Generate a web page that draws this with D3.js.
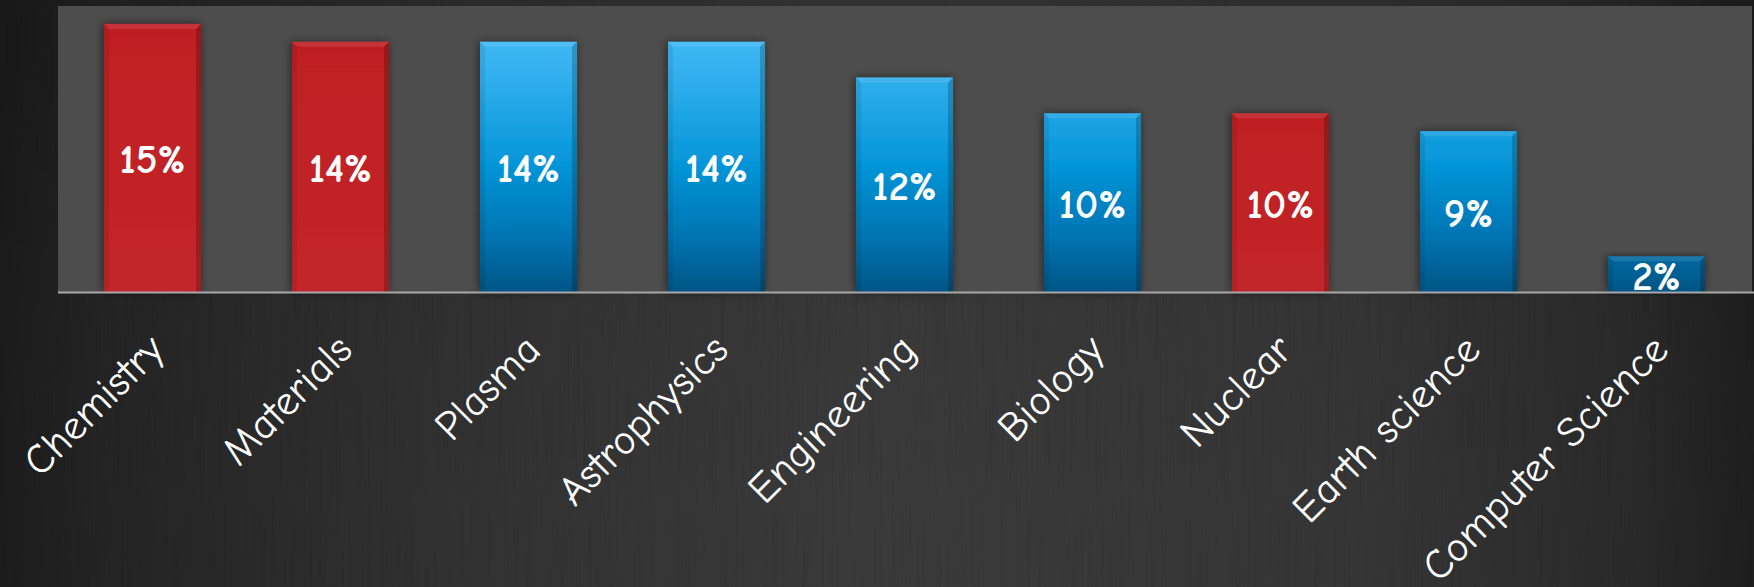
<!DOCTYPE html>
<html>
<head>
<meta charset="utf-8">
<script src="https://cdn.jsdelivr.net/npm/d3@7"></script>
<style>
  html, body { margin: 0; padding: 0; background: #2a2a2a; overflow: hidden; }
  svg { display: block; }
</style>
</head>
<body>
<svg id="chart" width="1754" height="587"></svg>
<script>
// Share of projects by research field
const categories = ["Chemistry", "Materials", "Plasma", "Astrophysics", "Engineering",
                    "Biology", "Nuclear", "Earth science", "Computer Science"];
const values = [15, 14, 14, 14, 12, 10, 10, 9, 2];
const groups = ["red", "red", "blue", "blue", "blue", "blue", "red", "blue", "blue"];
const yDomain = [0, 16];

const W = 1754, H = 587;
const plot = { left: 58.5, right: 1750.5, top: 6, bottom: 292 };

const svg = d3.select("#chart");
const defs = svg.append("defs");

// Charcoal backdrop: horizontal light falloff plus faint vertical grain
const bg = defs.append("linearGradient").attr("id", "bgGrad").attr("x1", 0).attr("x2", 1).attr("y1", 0).attr("y2", 0);
[[0, "#1c1c1c"], [0.06, "#242424"], [0.25, "#313131"], [0.5, "#3a3a3a"], [0.78, "#353535"], [0.93, "#2a2a2a"], [1, "#1e1e1e"]]
  .forEach(([o, c]) => bg.append("stop").attr("offset", o).attr("stop-color", c));
const bgV = defs.append("linearGradient").attr("id", "bgShade").attr("x1", 0).attr("x2", 0).attr("y1", 0).attr("y2", 1);
[[0, "#000", 0.15], [0.55, "#000", 0.02], [1, "#000", 0]]
  .forEach(([o, c, a]) => bgV.append("stop").attr("offset", o).attr("stop-color", c).attr("stop-opacity", a));

const grain = defs.append("filter").attr("id", "grain").attr("x", 0).attr("y", 0).attr("width", 1).attr("height", 1);
grain.append("feTurbulence").attr("type", "fractalNoise").attr("baseFrequency", "0.5 0.008")
  .attr("numOctaves", 2).attr("seed", 7).attr("result", "noise");
grain.append("feColorMatrix").attr("in", "noise").attr("type", "matrix")
  .attr("values", "0 0 0 0 0  0 0 0 0 0  0 0 0 0 0  0 0 0 -1.6 0.75");

// Bar fills
const red = defs.append("linearGradient").attr("id", "redFill").attr("x1", 0).attr("x2", 0).attr("y1", 0).attr("y2", 1);
[[0, "#bf1f23"], [1, "#c3262a"]].forEach(([o, c]) => red.append("stop").attr("offset", o).attr("stop-color", c));
const blue = defs.append("linearGradient").attr("id", "blueFill").attr("x1", 0).attr("x2", 0)
  .attr("y1", plot.top).attr("y2", plot.bottom).attr("gradientUnits", "userSpaceOnUse");
[[0, "#44bdf7"], [0.2, "#38b3f1"], [0.55, "#0596d9"], [0.8, "#0075b3"], [1, "#005585"]]
  .forEach(([o, c]) => blue.append("stop").attr("offset", o).attr("stop-color", c));

const shadow = defs.append("filter").attr("id", "barShadow").attr("x", -0.3).attr("y", -0.1).attr("width", 1.6).attr("height", 1.2);
shadow.append("feDropShadow").attr("dx", -1).attr("dy", 0).attr("stdDeviation", 5)
  .attr("flood-color", "#000").attr("flood-opacity", 0.55);

// Background layers
svg.append("rect").attr("width", W).attr("height", H).attr("fill", "url(#bgGrad)");
svg.append("rect").attr("width", W).attr("height", H).attr("fill", "url(#bgShade)");
svg.append("rect").attr("width", W).attr("height", H).attr("filter", "url(#grain)").attr("opacity", 0.14);

// Plot area
svg.append("rect")
  .attr("x", 58).attr("y", plot.top)
  .attr("width", 1752 - 58).attr("height", plot.bottom - plot.top)
  .attr("fill", "#4d4d4d");

const x = d3.scaleBand().domain(categories).range([plot.left, plot.right])
  .paddingInner(0.484).paddingOuter(0.242);
const y = d3.scaleLinear().domain(yDomain).range([plot.bottom, plot.top]);

const data = categories.map((c, i) => ({ cat: c, value: values[i], group: groups[i] }));

const bars = svg.append("g").selectAll("g.bar").data(data).join("g").attr("class", "bar");

bars.append("rect")
  .attr("x", d => x(d.cat)).attr("y", d => y(d.value))
  .attr("width", x.bandwidth()).attr("height", d => y(0) - y(d.value))
  .attr("fill", d => d.group === "red" ? "url(#redFill)" : "url(#blueFill)")
  .attr("filter", "url(#barShadow)");

// Bevelled edges on each bar
const bev = 5;
bars.append("path") // right edge, darker
  .attr("d", d => {
    const x1 = x(d.cat) + x.bandwidth(), t = y(d.value), b = y(0);
    return `M${x1},${t}L${x1 - bev},${t + bev}L${x1 - bev},${b}L${x1},${b}Z`;
  })
  .attr("fill", "#000").attr("fill-opacity", 0.2);
bars.append("path") // left edge, slightly darker
  .attr("d", d => {
    const x0 = x(d.cat), t = y(d.value), b = y(0);
    return `M${x0},${t}L${x0 + bev},${t + bev}L${x0 + bev},${b}L${x0},${b}Z`;
  })
  .attr("fill", "#000").attr("fill-opacity", 0.08);
bars.append("path") // top edge, lighter
  .attr("d", d => {
    const x0 = x(d.cat), x1 = x0 + x.bandwidth(), t = y(d.value);
    return `M${x0},${t}L${x1},${t}L${x1 - bev},${t + bev}L${x0 + bev},${t + bev}Z`;
  })
  .attr("fill", "#fff").attr("fill-opacity", 0.1);

// Value labels centred in each bar
bars.append("text")
  .attr("x", d => x(d.cat) + x.bandwidth() / 2)
  .attr("y", d => (y(d.value) + y(0)) / 2 + 2)
  .attr("text-anchor", "middle")
  .attr("dominant-baseline", "central")
  .attr("font-family", "'Comic Sans MS', 'Comic Neue', Lato, 'Open Sans', sans-serif")
  .attr("font-weight", "900")
  .attr("font-size", 41)
  .attr("fill", "#ffffff")
  .text(d => d.value + "%");

// Category axis
const axis = svg.append("g")
  .attr("transform", `translate(0,${plot.bottom})`)
  .call(d3.axisBottom(x).tickSize(0).tickSizeOuter(0));
axis.select(".domain").attr("stroke", "#a8a8a8").attr("stroke-width", 2)
  .attr("d", `M58,0.5H1754`);
axis.selectAll(".tick text")
  .attr("x", 0).attr("y", 0).attr("dy", 0)
  .attr("transform", "translate(14,60) rotate(-45)")
  .attr("text-anchor", "end")
  .attr("font-family", "'Comic Sans MS', 'Comic Neue', 'Open Sans', sans-serif")
  .attr("font-size", 42)
  .attr("fill", "#ffffff");
</script>
</body>
</html>
